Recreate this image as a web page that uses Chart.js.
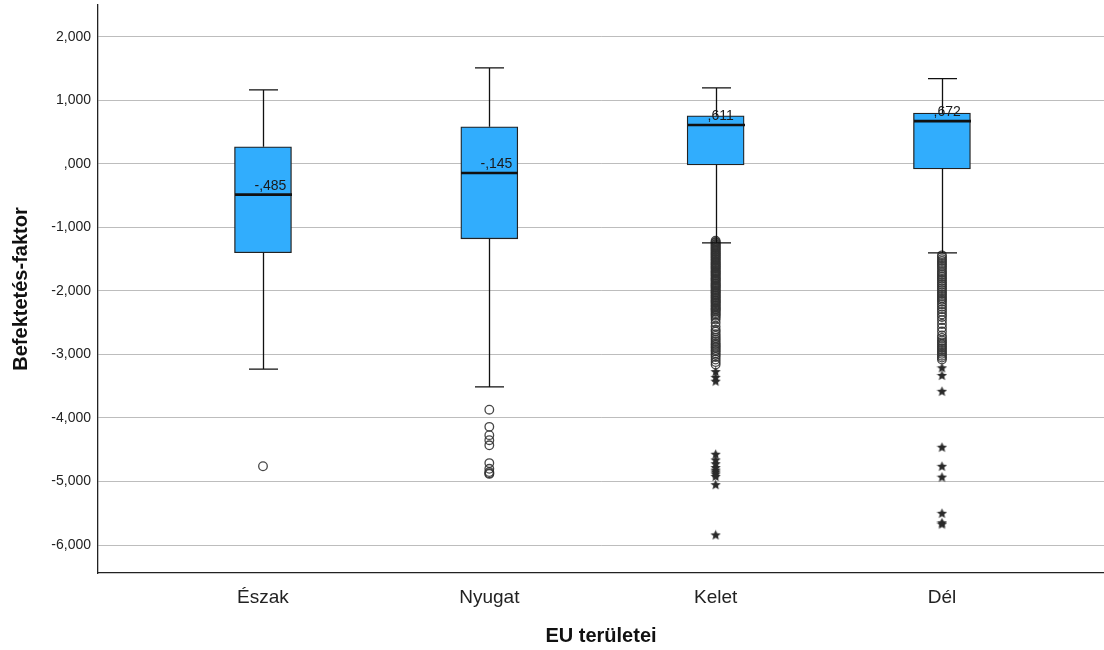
<!DOCTYPE html>
<html>
<head>
<meta charset="utf-8">
<script src="https://cdn.jsdelivr.net/npm/chart.js@4.4.1/dist/chart.umd.min.js"></script>
<style>
  html, body { margin: 0; padding: 0; background: #fff; }
  #wrap { width: 1104px; height: 650px; }
</style>
</head>
<body>
<div id="wrap"><canvas id="chart" width="1104" height="650"></canvas></div>
<script>
// EU regions and box statistics
const categories = ['Észak', 'Nyugat', 'Kelet', 'Dél'];
const whiskerHigh = [1.165, 1.51, 1.197, 1.34];
const q3 = [0.268, 0.583, 0.756, 0.80];
const median = [-0.485, -0.145, 0.611, 0.672];
const q1 = [-1.40, -1.18, -0.016, -0.079];
const whiskerLow = [-3.23, -3.51, -1.244, -1.40];
const medianLabels = ['-,485', '-,145', ',611', ',672'];
const yTicks = [2, 1, 0, -1, -2, -3, -4, -5, -6];

// outliers (circles) and extreme values (stars)
const eszakCircles = [-4.76];
const nyugatCircles = [-3.87, -4.14, -4.27, -4.35, -4.43, -4.71, -4.80, -4.85, -4.87, -4.88];
const keletCircles = [-1.21, -1.23, -1.24, -1.26, -1.27, -1.29, -1.30, -1.32, -1.33, -1.35, -1.36, -1.38,
  -1.39, -1.41, -1.42, -1.44, -1.45, -1.47, -1.48, -1.50, -1.51, -1.53, -1.55, -1.56, -1.58, -1.59,
  -1.61, -1.62, -1.64, -1.65, -1.67, -1.69, -1.70, -1.72, -1.73, -1.75, -1.76, -1.78, -1.80, -1.81,
  -1.83, -1.84, -1.86, -1.88, -1.89, -1.91, -1.92, -1.94, -1.95, -1.97, -1.99, -2.00, -2.02, -2.03,
  -2.05, -2.07, -2.08, -2.10, -2.11, -2.13, -2.15, -2.16, -2.18, -2.19, -2.21, -2.23, -2.24, -2.26,
  -2.28, -2.29, -2.31, -2.33, -2.35, -2.37, -2.39, -2.42, -2.45, -2.50, -2.56, -2.61, -2.64, -2.68,
  -2.71, -2.74, -2.77, -2.80, -2.83, -2.85, -2.88, -2.90, -2.93, -2.95, -2.98, -3.01, -3.04, -3.08,
  -3.12, -3.16];
const keletStars = [-3.27, -3.36, -3.42, -4.57, -4.66, -4.72, -4.78, -4.82, -4.85, -4.88, -4.92, -5.05, -5.84];
const delCircles = [-1.44, -1.47, -1.50, -1.53, -1.56, -1.59, -1.62, -1.65, -1.69, -1.72, -1.75, -1.78,
  -1.81, -1.84, -1.87, -1.90, -1.93, -1.96, -1.99, -2.02, -2.05, -2.08, -2.11, -2.14, -2.17, -2.21,
  -2.25, -2.29, -2.33, -2.37, -2.41, -2.46, -2.52, -2.58, -2.64, -2.70, -2.74, -2.78, -2.81, -2.84,
  -2.87, -2.90, -2.93, -2.96, -2.99, -3.02, -3.05, -3.08];
const delStars = [-3.21, -3.33, -3.58, -4.46, -4.76, -4.93, -5.50, -5.65, -5.67];

const circleSets = [eszakCircles, nyugatCircles, keletCircles, delCircles];
const starSets = [[], [], keletStars, delStars];

const FONT = "'Liberation Sans', Arial, sans-serif";
const BOX_W = 57;
const CAP_W = 29;

// small filled star used as point style
function makeStar() {
  const c = document.createElement('canvas');
  c.width = 11; c.height = 11;
  const g = c.getContext('2d');
  g.fillStyle = '#2a2a2a';
  g.beginPath();
  for (let i = 0; i < 10; i++) {
    const r = i % 2 === 0 ? 5.4 : 2.4;
    const a = -Math.PI / 2 + i * Math.PI / 5;
    const px = 5.5 + r * Math.cos(a), py = 5.8 + r * Math.sin(a);
    if (i === 0) g.moveTo(px, py); else g.lineTo(px, py);
  }
  g.closePath();
  g.fill();
  return c;
}
const starImg = makeStar();

const circleData = [];
const starData = [];
circleSets.forEach((arr, i) => arr.forEach(v => circleData.push({x: i + 1, y: v})));
starSets.forEach((arr, i) => arr.forEach(v => starData.push({x: i + 1, y: v})));

// whiskers, caps, medians and median labels
const boxExtras = {
  id: 'boxExtras',
  afterDatasetsDraw(chart) {
    const {ctx, scales: {x, y}} = chart;
    ctx.save();
    ctx.strokeStyle = '#111';
    categories.forEach((c, i) => {
      const cx = Math.round(x.getPixelForValue(i + 1)) + 0.5;
      const yHi = y.getPixelForValue(whiskerHigh[i]);
      const yQ3 = y.getPixelForValue(q3[i]);
      const yQ1 = y.getPixelForValue(q1[i]);
      const yLo = y.getPixelForValue(whiskerLow[i]);
      const yMed = y.getPixelForValue(median[i]);
      ctx.lineWidth = 1.3;
      ctx.beginPath();
      ctx.moveTo(cx, yHi); ctx.lineTo(cx, yQ3);
      ctx.moveTo(cx, yQ1); ctx.lineTo(cx, yLo);
      ctx.moveTo(cx - CAP_W / 2, yHi); ctx.lineTo(cx + CAP_W / 2, yHi);
      ctx.moveTo(cx - CAP_W / 2, yLo); ctx.lineTo(cx + CAP_W / 2, yLo);
      ctx.stroke();
      ctx.lineWidth = 2.6;
      ctx.beginPath();
      ctx.moveTo(cx - BOX_W / 2, yMed); ctx.lineTo(cx + BOX_W / 2, yMed);
      ctx.stroke();
      ctx.fillStyle = '#1a1a1a';
      ctx.font = '14px ' + FONT;
      ctx.textAlign = 'left';
      ctx.textBaseline = 'alphabetic';
      ctx.fillText(medianLabels[i], cx - 9, yMed - 5);
    });
    ctx.restore();
  }
};

new Chart(document.getElementById('chart'), {
  type: 'bar',
  data: {
    datasets: [
      {
        type: 'bar',
        data: categories.map((c, i) => ({x: i + 1, y: [q1[i], q3[i]]})),
        backgroundColor: '#31adfd',
        borderColor: '#222',
        borderWidth: 1.3,
        borderSkipped: false,
        barThickness: BOX_W,
        order: 2
      },
      {
        type: 'scatter',
        data: circleData,
        pointStyle: 'circle',
        pointRadius: 4.3,
        pointBorderWidth: 1.3,
        pointBorderColor: 'rgba(50,50,50,0.9)',
        pointBackgroundColor: 'rgba(0,0,0,0)',
        order: 1
      },
      {
        type: 'scatter',
        data: starData,
        pointStyle: starImg,
        order: 1
      }
    ]
  },
  options: {
    responsive: false,
    animation: false,
    events: [],
    layout: { autoPadding: false, padding: { top: 5, right: 0, left: 0, bottom: 0 } },
    plugins: {
      legend: { display: false },
      tooltip: { enabled: false }
    },
    scales: {
      x: {
        type: 'linear',
        offset: false,
        min: 0.271,
        max: 4.716,
        afterBuildTicks: s => { s.ticks = categories.map((c, i) => ({value: i + 1})); },
        afterFit: s => { s.height = 77; s.paddingLeft = 0; s.paddingRight = 0; },
        grid: { display: false, drawTicks: false, offset: false },
        border: { display: true, color: '#222', width: 1.3 },
        ticks: {
          padding: 13,
          color: '#222',
          font: { family: FONT, size: 19 },
          callback: v => categories[v - 1]
        },
        title: {
          display: true,
          text: 'EU területei',
          color: '#111',
          font: { family: FONT, size: 20, weight: 'bold' },
          padding: { top: 0, bottom: 2 }
        }
      },
      y: {
        min: -6.44,
        max: 2.5,
        afterBuildTicks: s => { s.ticks = yTicks.map(v => ({value: v})); },
        afterFit: s => { s.width = 98; s.paddingTop = 0; s.paddingBottom = 0; },
        grid: { color: '#bdbdbd', lineWidth: 1, drawTicks: false },
        border: { display: true, color: '#222', width: 1.3 },
        ticks: {
          padding: 7,
          color: '#222',
          font: { family: FONT, size: 14 },
          callback: v => {
            const s = Math.abs(v).toFixed(3).replace('.', ',').replace(/^0/, '');
            return (v < 0 ? '-' : '') + s;
          }
        },
        title: {
          display: true,
          text: 'Befektetés-faktor',
          color: '#111',
          font: { family: FONT, size: 20, weight: 'bold' },
          padding: { top: 9, bottom: 0 }
        }
      }
    }
  },
  plugins: [boxExtras]
});
</script>
</body>
</html>
